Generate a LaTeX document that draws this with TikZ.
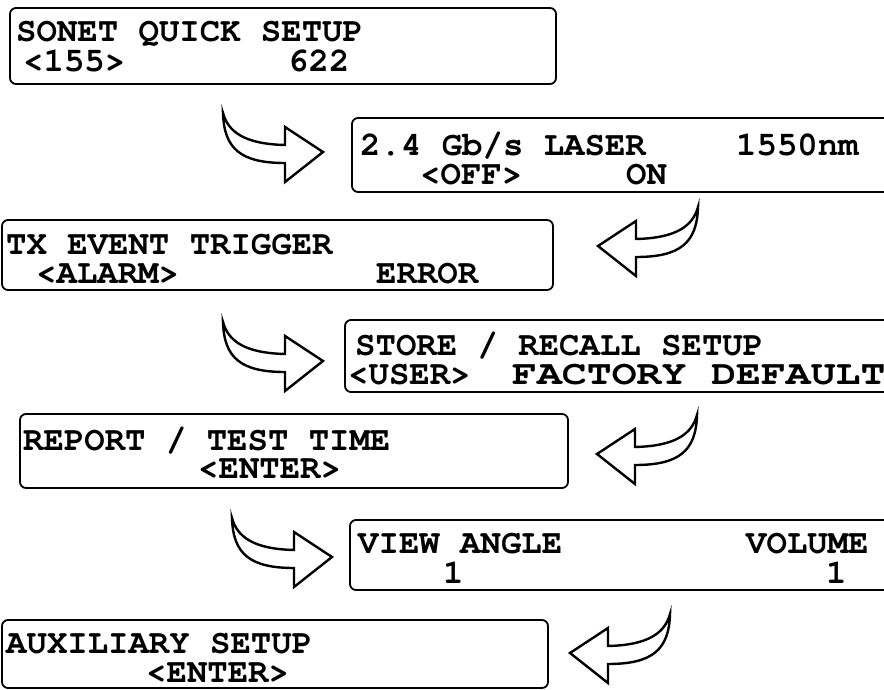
\documentclass[tikz,border=0pt]{standalone}
\usepackage{fontspec}
\newfontfamily\lcdfont{TeX Gyre Cursor}
\tikzset{
  lcdbox/.style={draw, line width=1.8pt, rounded corners=6pt},
  lcdtext/.style={anchor=base west, inner sep=0pt, text height=21pt, text depth=2pt,
    font=\lcdfont\bfseries\fontsize{34}{38}\selectfont},
  hookarrow/.pic={
    \draw[line width=2.4pt, line join=miter, fill=white]
      (0,0) .. controls (5,18) and (20,31) .. (62,32) -- (62,14) -- (100,39)
      -- (62,69) -- (62,50) .. controls (18,50) and (1,36) .. (0,0) -- cycle;
  }
}
\begin{document}
\begin{tikzpicture}[x=1pt,y=-1pt]
        \useasboundingbox (0,0) rectangle (884,690);
        \clip (0,0) rectangle (884,690);
        % SONET
        \draw[lcdbox] (10,8) rectangle (556,84);
        \node[lcdtext] (sonet) at (16,42) {SONET QUICK SETUP};
        \node[lcdtext] (rate155) at (23,72) {<155>};
        \node[lcdtext] (rate622) at (288,72) {622};
        \pic at (223,113) {hookarrow};
        % laser
        \draw[lcdbox] (352,118) rectangle (900,192);
        \node[lcdtext] (laser) at (360,156) {2.4 Gb/s LASER};
        \node[lcdtext] (wavelen) at (736,156) {1550nm};
        \node[lcdtext] (laseroff) at (420,185) {<OFF>};
        \node[lcdtext] (laseron) at (626,185) {ON};
        \pic[xscale=-1] at (698,207) {hookarrow};
        % trigger
        \draw[lcdbox] (2,220) rectangle (553,290);
        \node[lcdtext] (trigger) at (6,254) {TX EVENT TRIGGER};
        \node[lcdtext] (alarm) at (36,283) {<ALARM>};
        \node[lcdtext] (error) at (376,283) {ERROR};
        \pic at (223,322) {hookarrow};
        % store / recall
        \draw[lcdbox] (345,320) rectangle (900,392);
        \node[lcdtext] (store) at (355,355) {STORE / RECALL SETUP};
        \node[lcdtext] (user) at (348,384) {<USER>};
        \node[lcdtext] (factory) at (512,384) {\scalebox{1.22}[1]{FACTORY DEFAULT}};
        \pic[xscale=-1] at (697,415) {hookarrow};
        % report
        \draw[lcdbox] (20,414) rectangle (568,488);
        \node[lcdtext] (report) at (23,450) {REPORT / TEST TIME};
        \node[lcdtext] (repenter) at (198,478) {<ENTER>};
        \pic at (232,518) {hookarrow};
        % view angle / volume
        \draw[lcdbox] (350,520) rectangle (900,590);
        \node[lcdtext] (angle) at (358,553) {VIEW ANGLE};
        \node[lcdtext] (volume) at (746,553) {VOLUME};
        \node[lcdtext] (angleval) at (443,583) {1};
        \node[lcdtext] (volval) at (826,583) {1};
        \pic[xscale=-1] at (670,614) {hookarrow};
        % auxiliary
        \draw[lcdbox] (2,620) rectangle (548,688);
        \node[lcdtext] (aux) at (6,653) {AUXILIARY SETUP};
        \node[lcdtext] (auxenter) at (146,682) {<ENTER>};
\end{tikzpicture}
\end{document}
